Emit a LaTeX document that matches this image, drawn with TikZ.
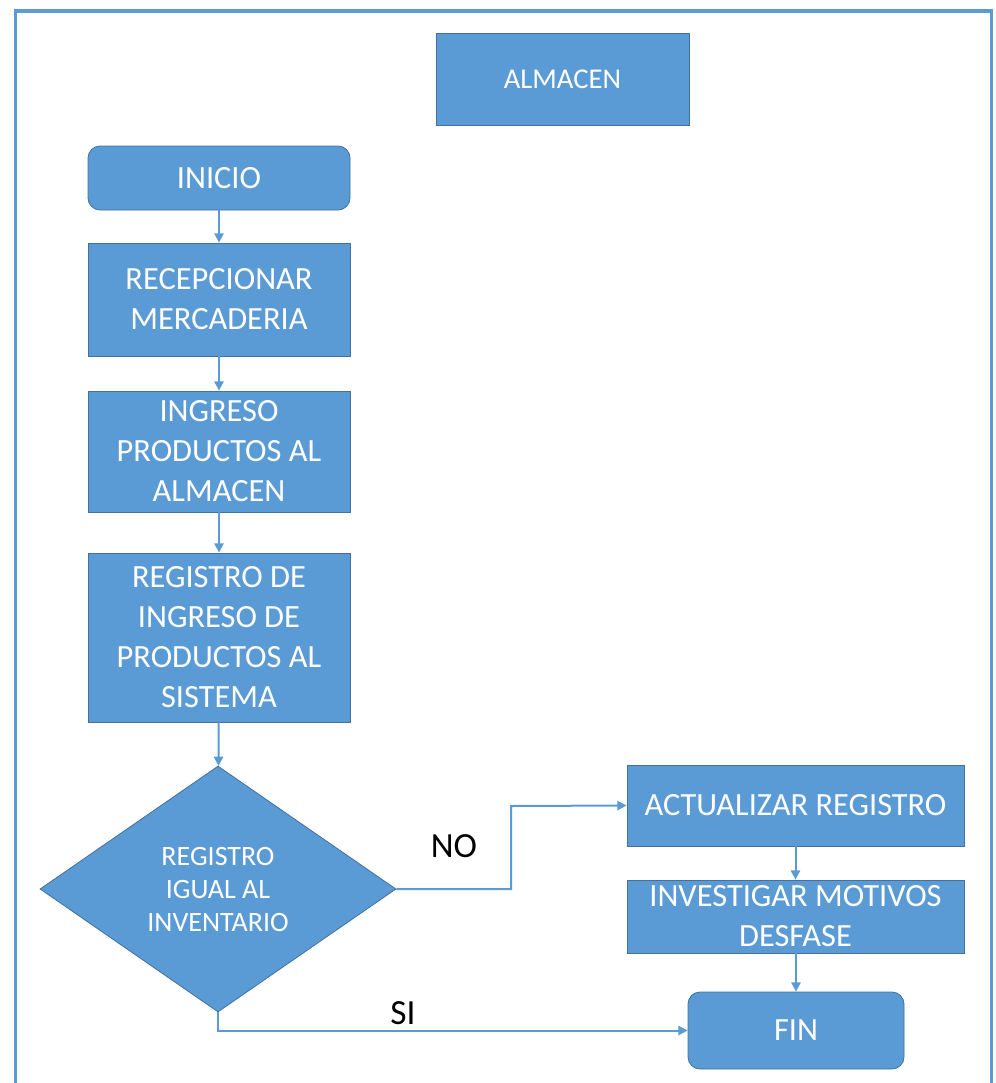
\documentclass[tikz,border=0pt]{standalone}
\usepackage{fontspec}
\setmainfont{Carlito}
\usetikzlibrary{shapes.geometric,arrows.meta}
\definecolor{boxblue}{HTML}{5B9BD5}
\definecolor{boxedge}{HTML}{41719C}
\tikzset{
  px/.style={x=0.75pt,y=-0.75pt},
  stepbox/.style={draw=boxedge,line width=0.6pt,fill=boxblue,text=white,
    font=\fontsize{24.3}{30}\selectfont,align=center,inner sep=0pt},
  terminal/.style={stepbox,rounded corners=9pt},
  decision/.style={draw=boxedge,line width=0.6pt,fill=boxblue,text=white,
    diamond,inner sep=0pt,font=\fontsize{21}{24.75}\selectfont,align=center},
  flow/.style={draw=boxblue,line width=1.5pt,
    -{Triangle[length=7pt,width=7pt]}},
  branch/.style={font=\fontsize{26.5}{30}\selectfont,text=black},
}
\begin{document}
\begin{tikzpicture}[px]
\useasboundingbox (0,0) rectangle (996,1083);
% outer frame, open at the bottom
\draw[boxblue,line width=2.3pt] (15.5,1083) -- (15.5,11) -- (991.5,11) -- (991.5,1083);

\node[stepbox,font=\fontsize{21.5}{30}\selectfont,minimum width=189.75pt,minimum height=69pt] (alm) at (562.5,79) {ALMACEN};
\node[terminal,minimum width=196.5pt,minimum height=48pt] (ini) at (219,178) {INICIO};
\node[stepbox,minimum width=196.5pt,minimum height=84.75pt] (rec) at (219,299.5) {RECEPCIONAR\\MERCADERIA};
\node[stepbox,minimum width=196.5pt,minimum height=90.75pt] (ing) at (219,451.5) {INGRESO\\PRODUCTOS AL\\ALMACEN};
\node[stepbox,minimum width=196.5pt,minimum height=126.75pt] (reg) at (219,637.5) {REGISTRO DE\\INGRESO DE\\PRODUCTOS AL\\SISTEMA};
\node[decision,minimum width=267pt,minimum height=184.5pt] (dec) at (218,889) {REGISTRO\\IGUAL AL\\INVENTARIO};
\node[stepbox,minimum width=252.75pt,minimum height=60.75pt] (act) at (795.5,805.5) {ACTUALIZAR REGISTRO};
\node[stepbox,minimum width=252.75pt,minimum height=54.75pt] (inv) at (795.5,916.5) {INVESTIGAR MOTIVOS\\DESFASE};
\node[terminal,minimum width=162pt,minimum height=57.75pt] (fin) at (796,1030.5) {FIN};

\draw[flow] (ini) -- (rec);
\draw[flow] (rec) -- (ing);
\draw[flow] (ing) -- (reg);
\draw[flow] (reg) -- (dec);
\draw[flow] (dec.east) -| (511,806) -- (act.west);
\draw[flow] (act) -- (inv);
\draw[flow] (inv.south -| fin.north) -- (fin.north);
\draw[flow] (dec.south) |- (fin.west);

\node[branch] (no) at (454,846) {NO};
\node[branch] (si) at (403,1013) {SI};
\end{tikzpicture}
\end{document}
